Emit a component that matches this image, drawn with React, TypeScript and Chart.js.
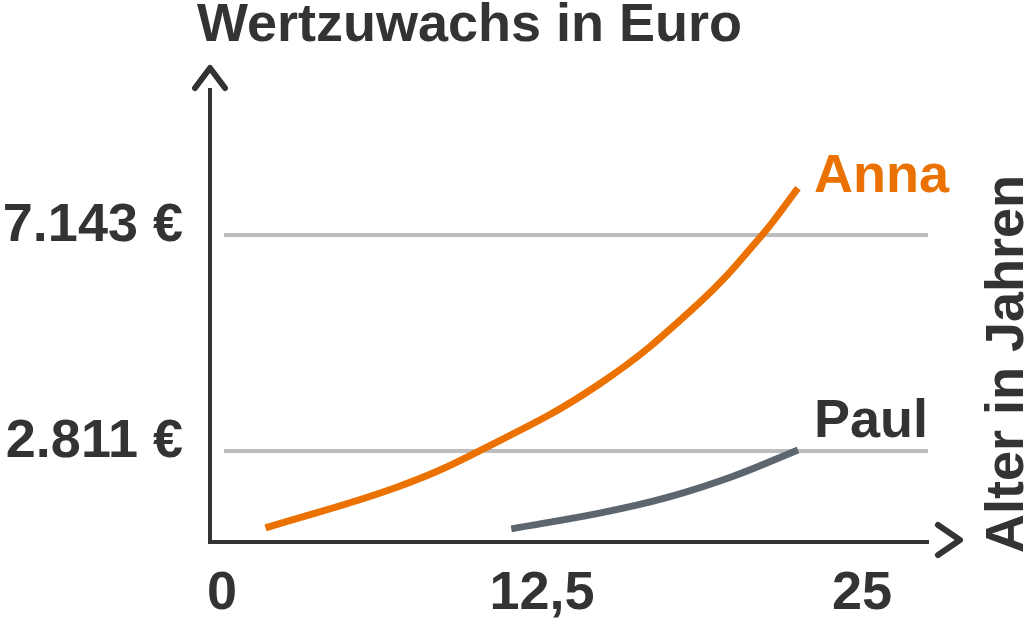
import { useEffect, useRef } from 'react';
import Chart from 'chart.js/auto';
import type { ChartConfiguration, Plugin } from 'chart.js';
import React from 'react';

// Alter (Jahre) und Wertzuwachs (Euro)
const annaAges = [1.7, 6.8, 10.0, 14.7, 18.6, 21.1, 22.5];
const annaValues = [1270, 2080, 2800, 4140, 5760, 7143, 8085];
const paulAges = [11.3, 14.8, 17.4, 20.0, 22.5];
const paulValues = [1250, 1570, 1880, 2310, 2830];

const seriesNames = ['Anna', 'Paul'];
const xTickValues = [0, 12.5, 25];
const xTickLabels = ['0', '12,5', '25'];
const yTickValues = [2811, 7143];
const yTickLabels = ['2.811 €', '7.143 €'];

const chartTitle = 'Wertzuwachs in Euro';
const xAxisTitle = 'Alter in Jahren';

const FONT = '"Liberation Sans", Arial, Helvetica, sans-serif';
const INK = '#333333';
const ORANGE = '#EB7100';
const SLATE = '#5D666E';
const GRID = '#BDBDBD';

// name labels next to the last point of each series
const nameLabels = [
  { dx: 16, dy: 4, color: ORANGE },
  { dx: 16, dy: -13, color: INK },
];

const decor: Plugin<'line'> = {
  id: 'decor',
  beforeDatasetsDraw(chart) {
    const { ctx, chartArea, scales } = chart;
    const y = scales.y;
    ctx.save();
    ctx.strokeStyle = GRID;
    ctx.lineWidth = 4;
    y.ticks.forEach((t) => {
      const py = y.getPixelForValue(t.value);
      ctx.beginPath();
      ctx.moveTo(chartArea.left + 14, py);
      ctx.lineTo(chartArea.right, py);
      ctx.stroke();
    });
    ctx.restore();
  },
  afterDraw(chart) {
    const { ctx, chartArea } = chart;
    const { left, top, right, bottom } = chartArea;
    ctx.save();

    // axis arrow heads
    ctx.strokeStyle = INK;
    ctx.lineWidth = 6;
    ctx.lineCap = 'round';
    ctx.lineJoin = 'round';
    ctx.beginPath();
    ctx.moveTo(left - 15, top - 2);
    ctx.lineTo(left, top - 22);
    ctx.lineTo(left + 15, top - 2);
    ctx.stroke();
    ctx.beginPath();
    ctx.moveTo(right + 10, bottom - 17);
    ctx.lineTo(right + 32, bottom - 2);
    ctx.lineTo(right + 10, bottom + 13);
    ctx.stroke();

    ctx.font = `bold 54px ${FONT}`;
    ctx.fillStyle = INK;
    ctx.textBaseline = 'alphabetic';
    ctx.textAlign = 'left';
    ctx.fillText(chartTitle, 197, 41);

    ctx.save();
    ctx.translate(1023, 553);
    ctx.rotate(-Math.PI / 2);
    ctx.fillText(xAxisTitle, 0, 0);
    ctx.restore();

    chart.data.datasets.forEach((ds, i) => {
      const pts = chart.getDatasetMeta(i).data;
      const last = pts[pts.length - 1];
      if (!last) return;
      const lab = nameLabels[i];
      ctx.fillStyle = lab.color;
      ctx.fillText(ds.label ?? '', last.x + lab.dx, last.y + lab.dy);
    });

    ctx.restore();
  },
};

const App = () => {
  const canvasRef = useRef<HTMLCanvasElement>(null);

  useEffect(() => {
    if (!canvasRef.current) {
      return;
    }

    const tickFont = { family: FONT, size: 54, weight: 'bold' as const };

    const config: ChartConfiguration<'line'> = {
      type: 'line',
      data: {
        datasets: [
          {
            label: seriesNames[0],
            data: annaAges.map((x, i) => ({ x, y: annaValues[i] })),
            borderColor: ORANGE,
            borderWidth: 7,
            pointRadius: 0,
            tension: 0.4,
            fill: false,
          },
          {
            label: seriesNames[1],
            data: paulAges.map((x, i) => ({ x, y: paulValues[i] })),
            borderColor: SLATE,
            borderWidth: 7,
            pointRadius: 0,
            tension: 0.4,
            fill: false,
          },
        ],
      },
      options: {
        responsive: false,
        animation: false,
        layout: { padding: { top: 90, right: 96, left: 0, bottom: 0 } },
        plugins: {
          legend: { display: false },
          tooltip: { enabled: false },
        },
        scales: {
          x: {
            type: 'linear',
            min: -0.47,
            max: 27.58,
            afterBuildTicks: (scale) => {
              scale.ticks = xTickValues.map((value) => ({ value }));
            },
            afterFit: (scale) => {
              scale.height = 86;
            },
            grid: { display: false, drawTicks: false },
            border: { display: true, color: INK, width: 4 },
            ticks: {
              color: INK,
              font: tickFont,
              padding: 20,
              maxRotation: 0,
              autoSkip: false,
              callback: (value) => xTickLabels[xTickValues.indexOf(Number(value))],
            },
          },
          y: {
            type: 'linear',
            min: 986,
            max: 10051,
            afterBuildTicks: (scale) => {
              scale.ticks = yTickValues.map((value) => ({ value }));
            },
            afterFit: (scale) => {
              scale.width = 210;
            },
            grid: { display: false, drawTicks: false },
            border: { display: true, color: INK, width: 4 },
            ticks: {
              color: INK,
              font: tickFont,
              padding: 27,
              labelOffset: -9,
              autoSkip: false,
              callback: (value) => yTickLabels[yTickValues.indexOf(Number(value))],
            },
          },
        },
      },
      plugins: [decor],
    };

    const chart = new Chart(canvasRef.current, config);

    return () => {
      chart.destroy();
    };
  }, []);

  return (
    <div style={{ position: 'fixed', left: 0, top: 0, width: 1024, height: 628, background: '#fff' }}>
      <canvas ref={canvasRef} width={1024} height={628} style={{ display: 'block' }} />
    </div>
  );
};

export default App;
